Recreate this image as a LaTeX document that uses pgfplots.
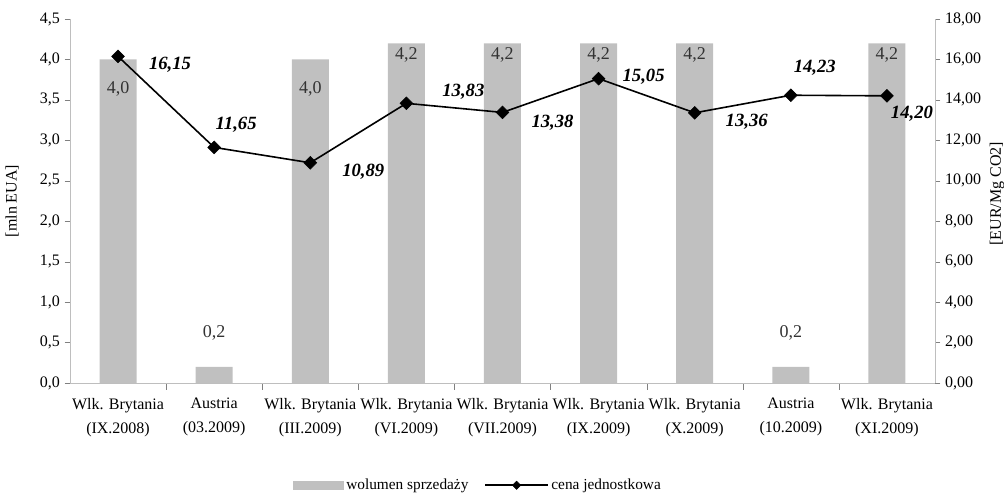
\documentclass[border=0pt]{standalone}
\usepackage{fontspec}
\setmainfont{Liberation Serif}
\usepackage{pgfplots}
\usepackage{pgfplotstable}
\pgfplotsset{compat=1.18}
\definecolor{barGray}{HTML}{C0C0C0}
\definecolor{axGray}{HTML}{BEBEBE}
\definecolor{tickGray}{HTML}{808080}

% volume of sales [mln EUA]; ly = label offset from bar top (pt)
\pgfplotstableread{
x vol ly
0 4.0 -21.75
1 0.2 25.5
2 4.0 -21.75
3 4.2 -9
4 4.2 -9
5 4.2 -9
6 4.2 -9
7 0.2 25.5
8 4.2 -9
}\voldata

% unit price [EUR/Mg CO2]; dx, dy = label offset (pt)
\pgfplotstableread{
x price dx dy
0 16.15 39 -6
1 11.65 16.5 17.25
2 10.89 39.75 -6.75
3 13.83 42.75 9
4 13.38 37.5 -7.5
5 15.05 33.75 1.5
6 13.36 39 -6.75
7 14.23 18 20.25
8 14.20 18.75 -13.5
}\pricedata

\pgfplotsset{
  /pgf/number format/assume math mode=true,
  base/.style={
    scale only axis, width=648.75pt, height=273pt,
    xmin=-0.5, xmax=8.5, ymin=0,
    tick align=outside,
    axis line style={axGray},
    tick style={tickGray},
    tick label style={font=\fontsize{12}{14}\selectfont},
    major tick length=4pt,
  },
  pricelegend/.style={
    legend image code/.code={\draw[mark repeat=2, mark phase=2, mark size=2.2pt, ##1] plot coordinates {(0pt,0pt) (23.5pt,0pt) (47pt,0pt)};},
  },
  barlegend/.style={
    legend image code/.code={\fill[barGray] (0pt,-3pt) rectangle (37.5pt,3pt);},
  },
}

\begin{document}
\begin{tikzpicture}
\useasboundingbox (-52.5pt,-84pt) rectangle (700.5pt,287.25pt);
\begin{axis}[
  base,
  ymax=4.5,
  axis y line*=left, axis x line*=bottom,
  ytick={0,0.5,1,1.5,2,2.5,3,3.5,4,4.5},
  yticklabel style={/pgf/number format/.cd, fixed, fixed zerofill, precision=1, use comma},
  xtick={0,...,8},
  major x tick style={draw=none},
  minor xtick={0.5,1.5,...,7.5},
  minor tick length=5pt,
  xticklabels={{Wlk. Brytania\\(IX.2008)},{Austria\\(03.2009)},{Wlk. Brytania\\(III.2009)},{Wlk. Brytania\\(VI.2009)},{Wlk. Brytania\\(VII.2009)},{Wlk. Brytania\\(IX.2009)},{Wlk. Brytania\\(X.2009)},{Austria\\(10.2009)},{Wlk. Brytania\\(XI.2009)}},
  xticklabel style={align=center, font=\fontsize{12}{18}\selectfont, yshift=-4pt},
  ylabel={[mln EUA]},
  ylabel style={at={(axis description cs:-0.067,0.5)}, anchor=center, font=\fontsize{12}{14}\selectfont},
  ybar, bar width=27.75pt,
]
\addplot[fill=barGray, draw=none,
  point meta=y,
  nodes near coords={\pgfmathprintnumber[fixed,fixed zerofill,precision=1,use comma]{\pgfplotspointmeta}},
  visualization depends on={\thisrow{ly} \as \ly},
  every node near coord/.append style={anchor=center, yshift=\ly pt, font=\fontsize{13.5}{15}\selectfont, text=black!80},
] table[x=x, y=vol] {\voldata};
\end{axis}

\begin{axis}[
  base,
  ymax=18,
  axis y line*=right, axis x line=none,
  ytick={0,2,...,18},
  yticklabel style={/pgf/number format/.cd, fixed, fixed zerofill, precision=2, use comma},
  ylabel={[EUR/Mg CO2]},
  ylabel style={at={(axis description cs:1.0717,0.52)}, anchor=center, rotate=0, font=\fontsize{12}{14}\selectfont},
  legend columns=2,
  legend style={at={(axis description cs:0.472,-0.281)}, anchor=center, draw=none, fill=none,
    font=\fontsize{11.5}{13}\selectfont, inner sep=0pt,
    /tikz/every even column/.append style={column sep=10pt}},
]
\addlegendimage{barlegend}
\addlegendentry{wolumen sprzedaży}
\addplot[black, line width=1.2pt, mark=square*, mark size=3.4pt, mark options={rotate=45, line width=0.4pt},
  point meta=y,
  nodes near coords={\pgfmathprintnumber[fixed,fixed zerofill,precision=2,use comma]{\pgfplotspointmeta}},
  visualization depends on={\thisrow{dx} \as \dx},
  visualization depends on={\thisrow{dy} \as \dy},
  every node near coord/.append style={anchor=center, xshift=\dx pt, yshift=\dy pt, font=\fontsize{14}{16}\selectfont\bfseries\itshape},
  pricelegend,
] table[x=x, y=price] {\pricedata};
\addlegendentry{cena jednostkowa}
\end{axis}
\end{tikzpicture}
\end{document}
